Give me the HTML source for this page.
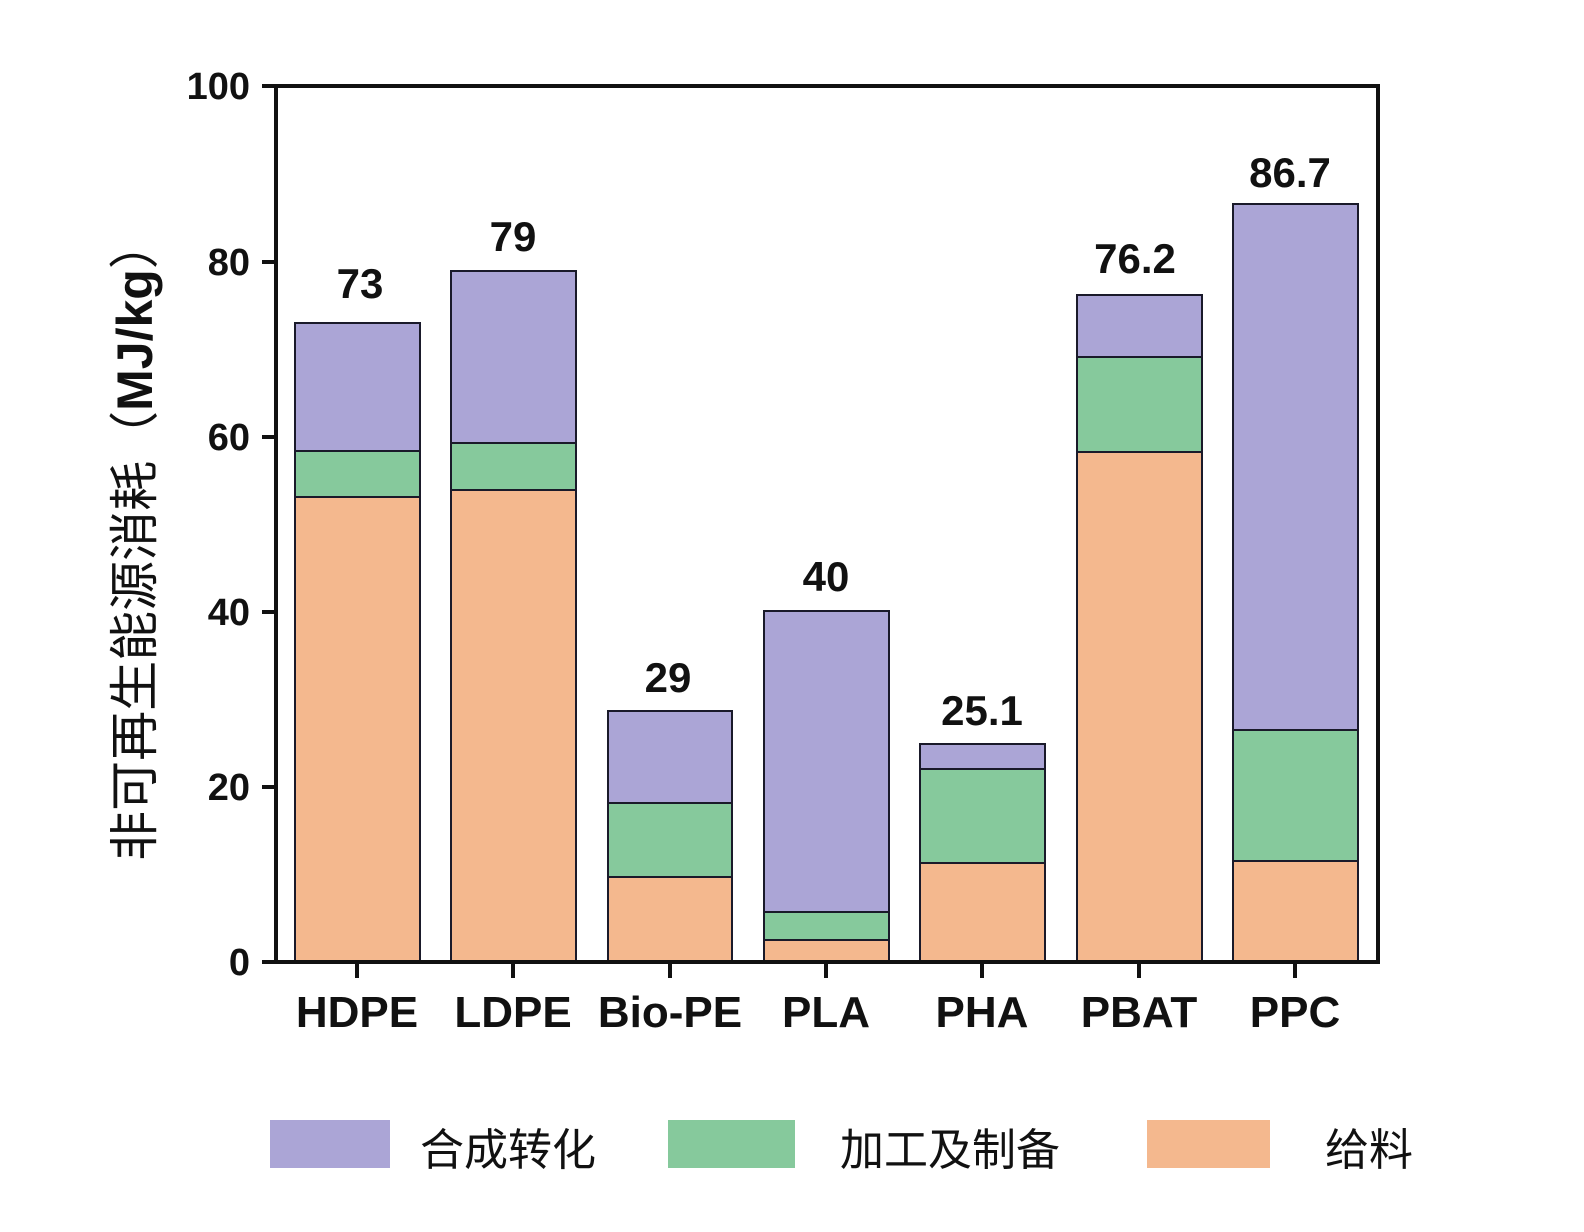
<!DOCTYPE html>
<html><head><meta charset="utf-8"><style>
body{margin:0;background:#fff;}
svg{display:block;}
text{font-family:"Liberation Sans","Noto Sans CJK SC",sans-serif;fill:#111;}
.b{font-weight:bold;}
</style></head><body>
<svg width="1584" height="1232" viewBox="0 0 1584 1232" xmlns="http://www.w3.org/2000/svg">
<rect width="1584" height="1232" fill="#fff"/>
<g stroke="#1a1a2a" stroke-width="2">
<rect x="295" y="497" width="125" height="465" fill="#f4b88e"/>
<rect x="295" y="451" width="125" height="46" fill="#86c99c"/>
<rect x="295" y="323" width="125" height="128" fill="#aba5d6"/>
<rect x="451" y="490" width="125" height="472" fill="#f4b88e"/>
<rect x="451" y="443" width="125" height="47" fill="#86c99c"/>
<rect x="451" y="271" width="125" height="172" fill="#aba5d6"/>
<rect x="608" y="877" width="124" height="85" fill="#f4b88e"/>
<rect x="608" y="803" width="124" height="74" fill="#86c99c"/>
<rect x="608" y="711" width="124" height="92" fill="#aba5d6"/>
<rect x="764" y="940" width="125" height="22" fill="#f4b88e"/>
<rect x="764" y="912" width="125" height="28" fill="#86c99c"/>
<rect x="764" y="611" width="125" height="301" fill="#aba5d6"/>
<rect x="920" y="863" width="125" height="99" fill="#f4b88e"/>
<rect x="920" y="769" width="125" height="94" fill="#86c99c"/>
<rect x="920" y="744" width="125" height="25" fill="#aba5d6"/>
<rect x="1077" y="452" width="125" height="510" fill="#f4b88e"/>
<rect x="1077" y="357" width="125" height="95" fill="#86c99c"/>
<rect x="1077" y="295" width="125" height="62" fill="#aba5d6"/>
<rect x="1233" y="861" width="125" height="101" fill="#f4b88e"/>
<rect x="1233" y="730" width="125" height="131" fill="#86c99c"/>
<rect x="1233" y="204" width="125" height="526" fill="#aba5d6"/>
</g>
<g stroke="#111" stroke-width="4" fill="none">
<rect x="276" y="86" width="1102" height="876"/>
<line x1="262" y1="86" x2="276" y2="86"/>
<line x1="262" y1="262" x2="276" y2="262"/>
<line x1="262" y1="437" x2="276" y2="437"/>
<line x1="262" y1="612" x2="276" y2="612"/>
<line x1="262" y1="787" x2="276" y2="787"/>
<line x1="262" y1="962" x2="276" y2="962"/>
<line x1="357" y1="962" x2="357" y2="978"/>
<line x1="513" y1="962" x2="513" y2="978"/>
<line x1="670" y1="962" x2="670" y2="978"/>
<line x1="826" y1="962" x2="826" y2="978"/>
<line x1="982" y1="962" x2="982" y2="978"/>
<line x1="1139" y1="962" x2="1139" y2="978"/>
<line x1="1295" y1="962" x2="1295" y2="978"/>
</g>
<g font-size="38" text-anchor="end">
<text x="250" y="99" class="b">100</text>
<text x="250" y="275" class="b">80</text>
<text x="250" y="450" class="b">60</text>
<text x="250" y="625" class="b">40</text>
<text x="250" y="800" class="b">20</text>
<text x="250" y="975" class="b">0</text>
</g>
<g font-size="42" text-anchor="middle">
<text class="b" x="360" y="298">73</text>
<text class="b" x="513" y="251">79</text>
<text class="b" x="668" y="692">29</text>
<text class="b" x="826" y="591">40</text>
<text class="b" x="982" y="725">25.1</text>
<text class="b" x="1135" y="273">76.2</text>
<text class="b" x="1290" y="187">86.7</text>
</g>
<g font-size="44" text-anchor="middle">
<text class="b" x="357" y="1027">HDPE</text>
<text class="b" x="513" y="1027">LDPE</text>
<text class="b" x="670" y="1027">Bio-PE</text>
<text class="b" x="826" y="1027">PLA</text>
<text class="b" x="982" y="1027">PHA</text>
<text class="b" x="1139" y="1027">PBAT</text>
<text class="b" x="1295" y="1027">PPC</text>
</g>
<text transform="translate(140,540) rotate(-90)" font-size="50" text-anchor="middle" dy="12">非可再生能源消耗（<tspan class="b">MJ/kg</tspan>）</text>
<rect x="270" y="1120" width="120" height="48" fill="#aba5d6"/>
<text x="420" y="1165" font-size="44">合成转化</text>
<rect x="668" y="1120" width="127" height="48" fill="#86c99c"/>
<text x="840" y="1165" font-size="44">加工及制备</text>
<rect x="1147" y="1120" width="123" height="48" fill="#f4b88e"/>
<text x="1325" y="1165" font-size="44">给料</text>
</svg>
</body></html>
